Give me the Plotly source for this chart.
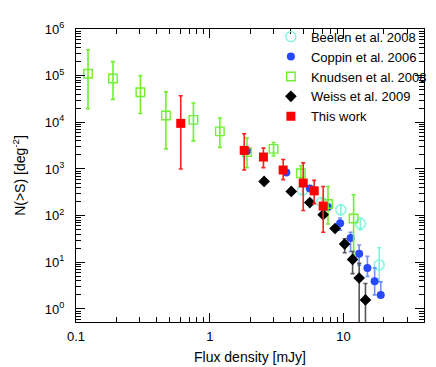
import plotly.graph_objects as go

# ---------------- data ----------------
beelen_x = [4.93, 6.86, 9.55, 13.4, 18.5]
beelen_y = [350, 195, 133, 67, 8.8]
beelen_hi = [420, 235, 170, 89, 20.5]
beelen_lo = [290, 160, 105, 50, 3.8]

coppin_x = [1.91, 3.74, 5.6, 7.66, 9.44, 11.3, 13.1, 15.1, 17.1, 19.0]
coppin_y = [2450, 840, 380, 153, 69, 33, 15.3, 7.5, 3.9, 2.0]
coppin_hi = [2700, 920, 420, 175, 89, 44, 23.4, 13.5, 7.6, 3.8]
coppin_lo = [2200, 760, 340, 133, 49, 17, 8.7, 5.0, 2.0, 2.0]

knudsen_x = [0.123, 0.189, 0.303, 0.47, 0.755, 1.19, 1.9, 3.0, 4.8, 7.66, 11.9]
knudsen_y = [1.1e5, 8.7e4, 4.4e4, 1.4e4, 1.13e4, 6.4e3, 2.3e3, 2.7e3, 810, 177, 87]
knudsen_hi = [3.6e5, 2.0e5, 1.0e5, 4.5e4, 2.6e4, 1.24e4, 4.6e3, 3.7e3, 1170, 420, 280]
knudsen_lo = [1.95e4, 3.1e4, 1.55e4, 2.7e3, 4.0e3, 2.9e3, 1.07e3, 1.9e3, 500, 66, 14.5]

weiss_x = [2.55, 4.07, 5.6, 7.05, 8.65, 10.2, 11.7, 13.1, 14.6]
weiss_y = [540, 330, 190, 105, 53, 24.6, 11.5, 4.6, 1.56]
weiss_hi = [560, 345, 200, 112, 58, 32, 17, 9.5, 3.5]
weiss_lo = [520, 315, 180, 98, 48, 16, 5.7, 0.1, 0.1]

work_x = [0.607, 1.81, 2.52, 3.54, 5.0, 6.04, 7.05]
work_y = [9.5e3, 2.5e3, 1.8e3, 950, 500, 340, 160]
work_hi = [3.7e4, 5.7e3, 2.8e3, 1.6e3, 1.35e3, 570, 420]
work_lo = [1.0e3, 950, 1.07e3, 590, 129, 180, 44]

x_ticks = [0.1, 1, 10]
x_ticklabels = ["0.1", "1", "10"]
y_ticks = [1, 10, 100, 1e3, 1e4, 1e5, 1e6]
y_ticklabels = ["10<sup>0</sup>", "10<sup>1</sup>", "10<sup>2</sup>", "10<sup>3</sup>",
                "10<sup>4</sup>", "10<sup>5</sup>", "10<sup>6</sup>"]


def err(y, hi, lo):
    return [h - v for v, h in zip(y, hi)], [v - l for v, l in zip(y, lo)]


fig = go.Figure()


def add(name, x, y, hi, lo, marker, ecolor):
    up, dn = err(y, hi, lo)
    fig.add_trace(go.Scatter(
        x=x, y=y, mode="markers", name=name, marker=marker,
        error_y=dict(type="data", symmetric=False, array=up, arrayminus=dn,
                     color=ecolor, thickness=1.6, width=2),
    ))


add("Beelen et al. 2008", beelen_x, beelen_y, beelen_hi, beelen_lo,
    dict(symbol="circle-open", size=10, color="#80f5e0", line=dict(width=1.4, color="#80f5e0")),
    "#80f5e0")
add("Coppin et al. 2006", coppin_x, coppin_y, coppin_hi, coppin_lo,
    dict(symbol="circle", size=8, color="#2848ff"),
    "#7090ff")
add("Knudsen et al. 2008", knudsen_x, knudsen_y, knudsen_hi, knudsen_lo,
    dict(symbol="square-open", size=8.5, color="#70f030", line=dict(width=1.4, color="#70f030")),
    "#70f030")
add("Weiss et al. 2009", weiss_x, weiss_y, weiss_hi, weiss_lo,
    dict(symbol="diamond", size=9, color="black"),
    "#555555")
add("This work", work_x, work_y, work_hi, work_lo,
    dict(symbol="square", size=9, color="#ff0000"),
    "#ff2020")

# minor tick values
x_minor = [m * d for d in [0.1, 1, 10] for m in range(2, 10) if m * d < 40]
y_minor = [m * 10 ** e for e in range(-1, 6) for m in range(2, 10)]

axis_common = dict(
    type="log", showgrid=False, zeroline=False, showline=True, linecolor="black",
    linewidth=1.2, mirror="ticks", ticks="inside", ticklen=9, tickwidth=1.2,
    tickcolor="black", tickfont=dict(size=13, color="black", family="Liberation Sans, Arial"),
)

fig.update_xaxes(
    **axis_common, range=[-1, 1.602], tickmode="array", tickvals=x_ticks, ticktext=x_ticklabels,
    minor=dict(tickmode="array", tickvals=x_minor, ticks="inside", ticklen=5, tickwidth=1, tickcolor="black"),
    title=dict(text="Flux density [mJy]", font=dict(size=14, color="black"), standoff=9),
    ticklabelstandoff=2,
)
fig.update_yaxes(
    **axis_common, range=[-0.28, 6], tickmode="array", tickvals=y_ticks, ticktext=y_ticklabels,
    minor=dict(tickmode="array", tickvals=y_minor, ticks="inside", ticklen=5, tickwidth=1, tickcolor="black"),
    title=dict(text="N(>S) [deg<sup>-2</sup>]", font=dict(size=14, color="black"), standoff=15),
    ticklabelstandoff=8,
)

fig.update_layout(
    width=436, height=367,
    margin=dict(l=61, r=12, t=19, b=42),
    plot_bgcolor="white", paper_bgcolor="white",
    font=dict(family="Liberation Sans, Arial", color="black", size=13),
    legend=dict(x=0.56, y=1.025, xanchor="left", yanchor="top",
                bgcolor="rgba(0,0,0,0)", font=dict(size=13), itemwidth=30,
                tracegroupgap=0),
    showlegend=True,
)

fig.write_html("out.html")
